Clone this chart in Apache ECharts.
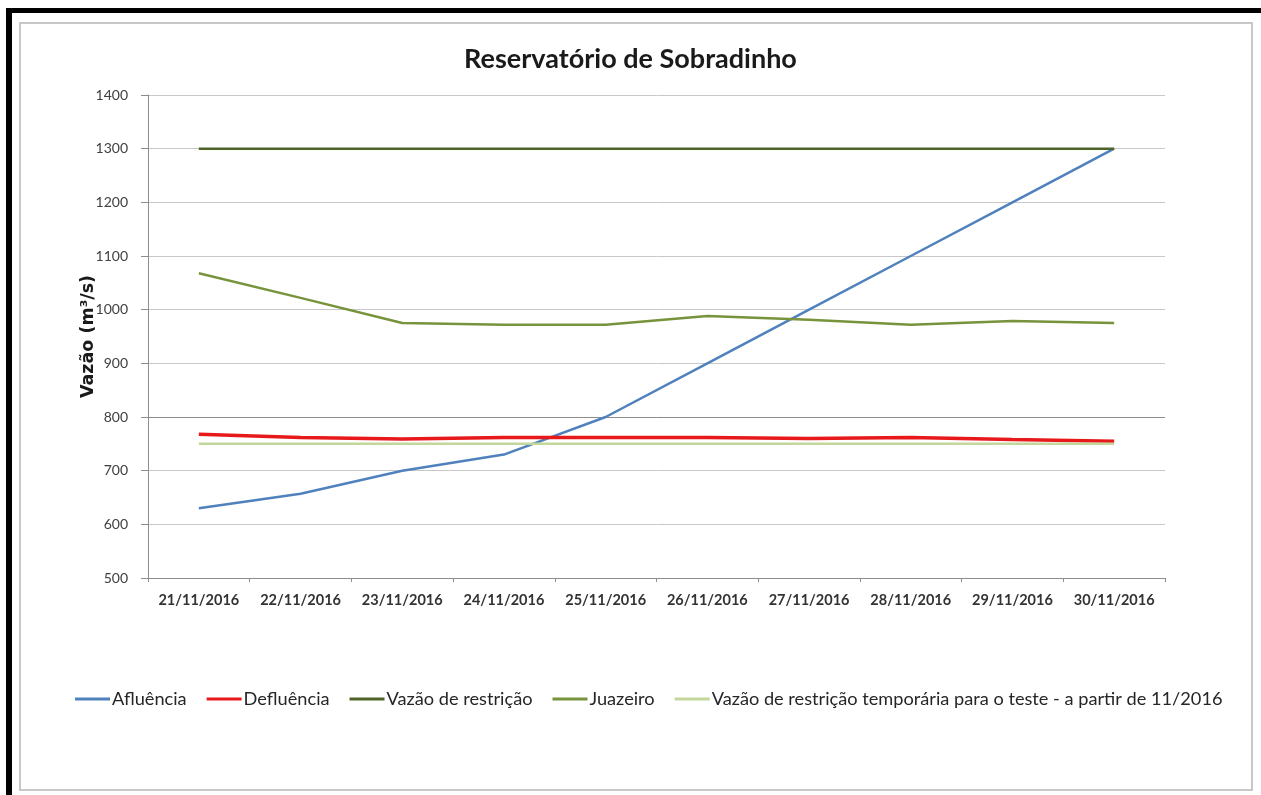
<!DOCTYPE html>
<html>
<head>
<meta charset="utf-8">
<script src="https://cdn.jsdelivr.net/npm/echarts@6/dist/echarts.min.js"></script>
<style>
  html, body { margin: 0; padding: 0; background: #fff; }
  #chart { width: 1261px; height: 795px; }
</style>
</head>
<body>
<div id="chart"></div>
<script>
// dados
const dias = ['21/11/2016', '22/11/2016', '23/11/2016', '24/11/2016', '25/11/2016',
  '26/11/2016', '27/11/2016', '28/11/2016', '29/11/2016', '30/11/2016'];
const afluencia = [630, 657, 700, 730, 800, 900, 1000, 1100, 1200, 1300];
const defluencia = [768, 762, 759, 762, 762, 762, 760, 762, 758, 755];
const vazaoRestricao = [1300, 1300, 1300, 1300, 1300, 1300, 1300, 1300, 1300, 1300];
const juazeiro = [1068, 1022, 975, 972, 972, 988, 981, 972, 979, 975];
const restricaoTemp = [750, 750, 750, 750, 750, 750, 750, 750, 750, 750];
const linhaDestaque = 800;

const fonte = 'Lato, "Open Sans", sans-serif';

let chart = echarts.init(document.getElementById('chart'));

function serie(name, data, color, width) {
  return {
    name: name,
    type: 'line',
    data: data,
    symbol: 'none',
    color: color,
    lineStyle: { width: width, color: color },
    silent: true,
    z: 3
  };
}

let series = [
  serie('Afluência', afluencia, '#4F81BD', 2.5),
  serie('Defluência', defluencia, '#E8191B', 3.5),
  serie('Vazão de restrição', vazaoRestricao, '#4F6228', 2.5),
  serie('Juazeiro', juazeiro, '#77933C', 2.5),
  serie('Vazão de restrição temporária para o teste - a partir de 11/2016', restricaoTemp, '#C3D69B', 2.5)
];
// linha de grade mais escura em 800
series[4].markLine = {
  silent: true,
  symbol: 'none',
  label: { show: false },
  lineStyle: { color: '#8C8C8C', width: 1, type: 'solid' },
  data: [{ yAxis: linhaDestaque }],
  z: 1
};

let option = {
  backgroundColor: '#fff',
  animation: false,
  title: {
    text: 'Reservatório de Sobradinho',
    left: 'center',
    top: 41,
    textStyle: { fontFamily: fonte, fontSize: 27, fontWeight: 'bold', color: '#1a1a1a' }
  },
  grid: { left: 148, right: 96, top: 95, bottom: 217 },
  legend: {
    top: 685,
    left: 70,
    itemGap: 20,
    itemWidth: 35,
    itemHeight: 3,
    icon: 'rect',
    textStyle: { fontFamily: fonte, fontSize: 18.2, color: '#262626', padding: [0, 0, 0, -3] },
    data: series.map(s => s.name)
  },
  xAxis: {
    type: 'category',
    data: dias,
    boundaryGap: true,
    axisLine: { lineStyle: { color: '#8C8C8C', width: 1 } },
    axisTick: { show: true, length: 4, lineStyle: { color: '#8C8C8C' } },
    axisLabel: { fontFamily: fonte, fontSize: 14.5, fontWeight: 'bold', color: '#333', margin: 15, interval: 0 }
  },
  yAxis: {
    type: 'value',
    min: 500,
    max: 1400,
    interval: 100,
    name: 'Vazão (m³/s)',
    nameLocation: 'middle',
    nameGap: 51,
    nameMoveOverlap: false,
    nameTextStyle: { fontFamily: '"DejaVu Sans", sans-serif', fontSize: 17.5, fontWeight: 'bold', color: '#1a1a1a' },
    axisLine: { show: true, lineStyle: { color: '#8C8C8C', width: 1 } },
    axisTick: { show: true, length: 7, lineStyle: { color: '#8C8C8C' } },
    axisLabel: { fontFamily: fonte, fontSize: 14, color: '#404040', margin: 20, formatter: v => String(v) },
    splitLine: { lineStyle: { color: '#C8C8C8', width: 1 } }
  },
  graphic: [
    { type: 'rect', shape: { x: 20, y: 23, width: 1232, height: 767 }, style: { fill: null, stroke: '#C8C8C8', lineWidth: 2 }, z: -1, silent: true },
    { type: 'rect', shape: { x: 6, y: 8, width: 6, height: 787 }, style: { fill: '#000' }, silent: true },
    { type: 'rect', shape: { x: 6, y: 8, width: 1255, height: 5 }, style: { fill: '#000' }, silent: true }
  ],
  series: series
};

chart.setOption(option);
</script>
</body>
</html>
